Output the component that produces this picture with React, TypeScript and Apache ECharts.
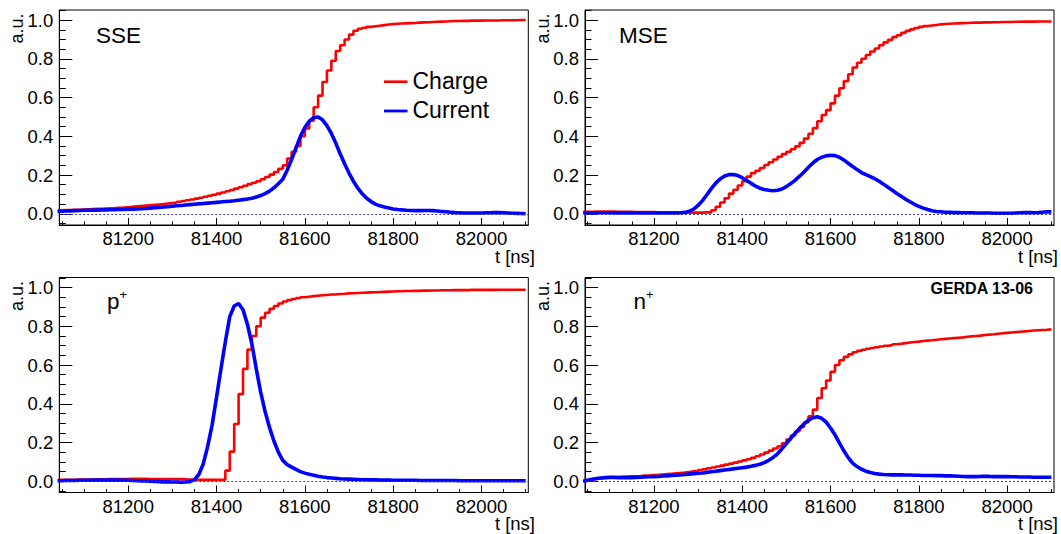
import React, { useEffect, useRef } from "react";
import * as echarts from "echarts";

// ---------- data ----------
// sampling grid (bin starts), 10 ns bins from 81040 ns to 82100 ns
const TIME: number[] = Array.from({ length: 107 }, (_, i) => 81040 + 10 * i);

const X_MAJOR = [81200, 81400, 81600, 81800, 82000];
const X_MINOR = [
  81050, 81100, 81150, 81200, 81250, 81300, 81350, 81400, 81450, 81500, 81550,
  81600, 81650, 81700, 81750, 81800, 81850, 81900, 81950, 82000, 82050, 82100,
];
const Y_MAJOR = [0, 0.2, 0.4, 0.6, 0.8, 1.0];
const Y_MINOR = [
  -0.05, 0, 0.05, 0.1, 0.15, 0.2, 0.25, 0.3, 0.35, 0.4, 0.45, 0.5, 0.55, 0.6,
  0.65, 0.7, 0.75, 0.8, 0.85, 0.9, 0.95, 1.0, 1.05,
];

const SSE_CHARGE = [
  0.018, 0.019, 0.019, 0.02, 0.021, 0.022, 0.023, 0.024, 0.025, 0.026,
  0.027, 0.028, 0.029, 0.031, 0.032, 0.034, 0.036, 0.038, 0.04, 0.042,
  0.044, 0.046, 0.048, 0.05, 0.053, 0.055, 0.058, 0.062, 0.066, 0.07,
  0.074, 0.078, 0.083, 0.088, 0.093, 0.098, 0.104, 0.11, 0.116, 0.123,
  0.13, 0.137, 0.145, 0.153, 0.16, 0.168, 0.178, 0.19, 0.202, 0.216,
  0.232, 0.25, 0.285, 0.32, 0.35, 0.4, 0.44, 0.48, 0.55, 0.61,
  0.68, 0.74, 0.79, 0.84, 0.87, 0.9, 0.925, 0.945, 0.955, 0.96,
  0.965, 0.968, 0.971, 0.974, 0.977, 0.979, 0.981, 0.982, 0.983, 0.984,
  0.985, 0.987, 0.988, 0.989, 0.99, 0.991, 0.992, 0.993, 0.994, 0.995,
  0.995, 0.996, 0.996, 0.997, 0.997, 0.997, 0.998, 0.998, 0.998, 0.998,
  0.999, 0.999, 0.999, 0.999, 1.0, 1.0, 1.0,
];
const SSE_CURRENT = [
  0.012, 0.013, 0.014, 0.015, 0.016, 0.017, 0.018, 0.018, 0.019, 0.019,
  0.02, 0.02, 0.021, 0.021, 0.022, 0.022, 0.023, 0.024, 0.025, 0.026,
  0.027, 0.029, 0.031, 0.033, 0.035, 0.037, 0.039, 0.041, 0.043, 0.045,
  0.047, 0.049, 0.051, 0.053, 0.055, 0.057, 0.059, 0.061, 0.063, 0.065,
  0.067, 0.07, 0.073, 0.076, 0.08, 0.086, 0.094, 0.104, 0.117, 0.134,
  0.155, 0.178, 0.225, 0.28, 0.34, 0.4, 0.445, 0.478, 0.496, 0.5,
  0.485, 0.455, 0.415, 0.365, 0.31, 0.258, 0.21, 0.168, 0.132, 0.103,
  0.08, 0.063, 0.05, 0.041, 0.035, 0.03, 0.025, 0.022, 0.02, 0.018,
  0.017, 0.016, 0.016, 0.017, 0.017, 0.016, 0.014, 0.012, 0.01, 0.008,
  0.006, 0.005, 0.004, 0.004, 0.004, 0.004, 0.004, 0.005, 0.005, 0.006,
  0.006, 0.005, 0.004, 0.003, 0.002, 0.001, 0.0,
];

const MSE_CHARGE = [
  0.01, 0.01, 0.011, 0.011, 0.011, 0.011, 0.011, 0.01, 0.01, 0.01,
  0.01, 0.009, 0.009, 0.009, 0.009, 0.009, 0.008, 0.008, 0.008, 0.008,
  0.007, 0.007, 0.007, 0.006, 0.006, 0.006, 0.006, 0.007, 0.007, 0.018,
  0.036, 0.058, 0.08, 0.104, 0.124, 0.146, 0.168, 0.192, 0.21, 0.222,
  0.236, 0.252, 0.266, 0.28, 0.294, 0.308, 0.32, 0.333, 0.348, 0.366,
  0.388, 0.413, 0.442, 0.478, 0.51, 0.535, 0.57, 0.61, 0.648, 0.685,
  0.72, 0.755, 0.78, 0.8, 0.82, 0.838, 0.853, 0.87, 0.885, 0.898,
  0.912, 0.922, 0.934, 0.944, 0.952, 0.959, 0.965, 0.969, 0.972, 0.975,
  0.978, 0.98, 0.981, 0.982, 0.983, 0.984, 0.985, 0.986, 0.987, 0.987,
  0.988, 0.988, 0.989, 0.989, 0.99, 0.99, 0.99, 0.991, 0.991, 0.992,
  0.992, 0.992, 0.993, 0.993, 0.993, 0.993, 0.993,
];
const MSE_CURRENT = [
  0.004, 0.004, 0.005, 0.005, 0.005, 0.005, 0.005, 0.004, 0.004, 0.004,
  0.004, 0.004, 0.004, 0.004, 0.004, 0.004, 0.004, 0.004, 0.004, 0.004,
  0.004, 0.004, 0.005, 0.007, 0.013, 0.024, 0.043, 0.068, 0.098, 0.13,
  0.158, 0.18, 0.195, 0.202, 0.203, 0.197, 0.186, 0.172, 0.157, 0.143,
  0.132, 0.125, 0.121, 0.119, 0.121, 0.128, 0.14, 0.156, 0.174, 0.194,
  0.216, 0.24, 0.262, 0.28, 0.292, 0.299, 0.302, 0.3, 0.292, 0.278,
  0.261, 0.244, 0.228, 0.213, 0.202, 0.192, 0.181, 0.168, 0.153, 0.137,
  0.121, 0.105, 0.09, 0.075, 0.062, 0.049, 0.038, 0.029, 0.022, 0.016,
  0.012, 0.01, 0.008, 0.007, 0.006, 0.006, 0.005, 0.005, 0.005, 0.004,
  0.004, 0.004, 0.004, 0.003, 0.003, 0.003, 0.003, 0.003, 0.004, 0.005,
  0.006, 0.006, 0.005, 0.006, 0.008, 0.01, 0.01,
];

const PPLUS_CHARGE = [
  0.008, 0.008, 0.008, 0.008, 0.009, 0.009, 0.009, 0.009, 0.01, 0.01,
  0.01, 0.011, 0.011, 0.012, 0.012, 0.012, 0.013, 0.013, 0.013, 0.013,
  0.012, 0.012, 0.012, 0.012, 0.012, 0.012, 0.011, 0.011, 0.01, 0.009,
  0.008, 0.008, 0.007, 0.007, 0.007, 0.007, 0.007, 0.008, 0.055, 0.153,
  0.296, 0.45, 0.58, 0.68, 0.75, 0.8, 0.845, 0.87, 0.89, 0.905,
  0.918, 0.928, 0.935, 0.941, 0.946, 0.95, 0.953, 0.956, 0.958, 0.96,
  0.962, 0.964, 0.965, 0.967, 0.968, 0.97, 0.971, 0.972, 0.973, 0.974,
  0.975, 0.976, 0.977, 0.978, 0.979, 0.98, 0.981, 0.981, 0.982, 0.982,
  0.983, 0.983, 0.984, 0.984, 0.985, 0.985, 0.986, 0.986, 0.986, 0.987,
  0.987, 0.987, 0.987, 0.988, 0.988, 0.988, 0.988, 0.988, 0.988, 0.989,
  0.989, 0.989, 0.989, 0.989, 0.989, 0.989, 0.989,
];
const PPLUS_CURRENT = [
  0.003, 0.003, 0.004, 0.004, 0.004, 0.005, 0.005, 0.005, 0.006, 0.006,
  0.006, 0.006, 0.006, 0.006, 0.006, 0.005, 0.005, 0.004, 0.003, 0.002,
  0.001, 0.0, -0.001, -0.002, -0.003, -0.003, -0.004, -0.004, -0.005, -0.004,
  -0.002, 0.008, 0.035, 0.09, 0.18, 0.29, 0.433, 0.58, 0.72, 0.85,
  0.905, 0.918, 0.885, 0.81, 0.71, 0.58, 0.46, 0.36, 0.278, 0.208,
  0.15, 0.108, 0.086, 0.073, 0.061, 0.05, 0.042, 0.036, 0.031, 0.026,
  0.022, 0.019, 0.017, 0.015, 0.013, 0.012, 0.011, 0.01, 0.009, 0.008,
  0.008, 0.007, 0.007, 0.006, 0.006, 0.006, 0.005, 0.005, 0.005, 0.005,
  0.005, 0.005, 0.004, 0.004, 0.004, 0.004, 0.004, 0.004, 0.004, 0.004,
  0.004, 0.003, 0.003, 0.003, 0.003, 0.003, 0.003, 0.003, 0.003, 0.003,
  0.003, 0.003, 0.003, 0.003, 0.003, 0.003, 0.003,
];

const NPLUS_CHARGE = [
  0.002, 0.006, 0.011, 0.015, 0.018, 0.02, 0.021, 0.022, 0.023, 0.024,
  0.025, 0.026, 0.027, 0.029, 0.03, 0.032, 0.033, 0.035, 0.037, 0.039,
  0.041, 0.043, 0.045, 0.048, 0.051, 0.054, 0.058, 0.062, 0.067, 0.071,
  0.076, 0.081, 0.086, 0.091, 0.096, 0.102, 0.108, 0.114, 0.121, 0.129,
  0.138, 0.148, 0.158, 0.169, 0.181, 0.196, 0.215, 0.236, 0.258, 0.28,
  0.305, 0.335, 0.37, 0.43, 0.48, 0.52, 0.565, 0.6, 0.625, 0.642,
  0.655, 0.666, 0.673, 0.679, 0.684, 0.688, 0.692, 0.696, 0.7, 0.703,
  0.707, 0.71, 0.713, 0.716, 0.719, 0.721, 0.724, 0.726, 0.728, 0.731,
  0.733, 0.735, 0.737, 0.739, 0.741, 0.743, 0.746, 0.748, 0.75, 0.752,
  0.755, 0.757, 0.759, 0.762, 0.764, 0.766, 0.768, 0.77, 0.772, 0.774,
  0.776, 0.778, 0.78, 0.781, 0.782, 0.784, 0.785,
];
const NPLUS_CURRENT = [
  0.0, 0.005, 0.01, 0.014, 0.017, 0.019, 0.02, 0.02, 0.019, 0.019,
  0.019, 0.019, 0.02, 0.021, 0.022, 0.023, 0.024, 0.025, 0.027, 0.028,
  0.03, 0.031, 0.033, 0.035, 0.037, 0.039, 0.041, 0.043, 0.046, 0.049,
  0.052, 0.055, 0.058, 0.061, 0.064, 0.067, 0.07, 0.073, 0.077, 0.082,
  0.088, 0.096, 0.108, 0.123, 0.142, 0.168, 0.195, 0.222, 0.248, 0.273,
  0.296, 0.315, 0.328, 0.333, 0.325, 0.305, 0.275, 0.24, 0.198, 0.158,
  0.122, 0.094, 0.076, 0.062, 0.052, 0.045, 0.04, 0.037, 0.035, 0.034,
  0.033, 0.033, 0.033, 0.032, 0.032, 0.031, 0.031, 0.03, 0.03, 0.03,
  0.029, 0.029, 0.028, 0.028, 0.027, 0.026, 0.025, 0.024, 0.024, 0.024,
  0.025, 0.025, 0.025, 0.024, 0.024, 0.024, 0.024, 0.023, 0.023, 0.022,
  0.022, 0.022, 0.021, 0.021, 0.021, 0.021, 0.021,
];

// panel titles: main text and superscript
const PANEL_TITLES = [
  ["SSE", ""],
  ["MSE", ""],
  ["p", "+"],
  ["n", "+"],
];
const CHARGES = [SSE_CHARGE, MSE_CHARGE, PPLUS_CHARGE, NPLUS_CHARGE];
const CURRENTS = [SSE_CURRENT, MSE_CURRENT, PPLUS_CURRENT, NPLUS_CURRENT];

// ---------- layout ----------
const FONT = "Liberation Sans";
const X_MIN = 81044;
const X_MAX = 82106;
const Y_MIN = -0.058;
const Y_MAX = 1.052;
const GRIDS = [
  { left: 59.3, top: 10, width: 469, height: 215 },
  { left: 585, top: 10, width: 469, height: 215 },
  { left: 59.3, top: 277.5, width: 469, height: 215 },
  { left: 585, top: 277.5, width: 469, height: 215 },
];
const TITLE_POS = [
  { x: 96, y: 35.5 },
  { x: 619, y: 35.5 },
  { x: 107, y: 301 },
  { x: 633.5, y: 301 },
];

function buildOption() {
  const black = { color: "#000", width: 1 };
  const xAxes: any[] = [];
  const yAxes: any[] = [];
  GRIDS.forEach((_, i) => {
    xAxes.push({
      type: "value",
      gridIndex: i,
      position: "bottom",
      min: X_MIN,
      max: X_MAX,
      axisLine: { show: true, onZero: false, lineStyle: black },
      axisTick: { show: true, inside: true, length: 7, lineStyle: black, customValues: X_MAJOR },
      axisLabel: {
        show: true,
        customValues: X_MAJOR,
        formatter: (v: number) => String(v),
        color: "#000",
        fontSize: 18.5,
        fontFamily: FONT,
        margin: 4,
      },
      splitLine: { show: false },
    });
    yAxes.push({
      type: "value",
      gridIndex: i,
      position: "left",
      min: Y_MIN,
      max: Y_MAX,
      axisLine: { show: true, onZero: false, lineStyle: black },
      axisTick: { show: true, inside: true, length: 13, lineStyle: black, customValues: Y_MAJOR },
      axisLabel: {
        show: true,
        customValues: Y_MAJOR,
        formatter: (v: number) => v.toFixed(1),
        color: "#000",
        fontSize: 18.5,
        fontFamily: FONT,
        margin: 6,
      },
      splitLine: { show: false },
    });
  });
  GRIDS.forEach((_, i) => {
    xAxes.push({
      type: "value",
      gridIndex: i,
      position: "bottom",
      min: X_MIN,
      max: X_MAX,
      axisLine: { show: false, onZero: false },
      axisTick: { show: true, inside: true, length: 3.5, lineStyle: black, customValues: X_MINOR },
      axisLabel: { show: false },
      splitLine: { show: false },
    });
    yAxes.push({
      type: "value",
      gridIndex: i,
      position: "left",
      min: Y_MIN,
      max: Y_MAX,
      axisLine: { show: false, onZero: false },
      axisTick: { show: true, inside: true, length: 6.5, lineStyle: black, customValues: Y_MINOR },
      axisLabel: { show: false },
      splitLine: { show: false },
    });
  });

  const series: any[] = [];
  GRIDS.forEach((_, i) => {
    series.push({
      type: "line",
      name: "Charge",
      xAxisIndex: i,
      yAxisIndex: i,
      data: TIME.map((t, k) => [t, CHARGES[i][k]]),
      step: "end",
      symbol: "none",
      showSymbol: false,
      lineStyle: { color: "#ff0000", width: 2.6 },
      itemStyle: { color: "#ff0000" },
      z: 2,
      markLine: {
        silent: true,
        symbol: ["none", "none"],
        label: { show: false },
        lineStyle: { type: [2, 2], color: "#3c3c96", width: 1 },
        data: [{ yAxis: 0 }],
      },
    });
    series.push({
      type: "line",
      name: "Current",
      xAxisIndex: i,
      yAxisIndex: i,
      data: TIME.map((t, k) => [t, CURRENTS[i][k]]),
      symbol: "none",
      showSymbol: false,
      lineStyle: { color: "#0000ff", width: 3.6 },
      itemStyle: { color: "#0000ff" },
      z: 3,
    });
  });

  const graphic: any[] = [];
  PANEL_TITLES.forEach(([main, sup], i) => {
    graphic.push({
      type: "text",
      x: TITLE_POS[i].x,
      y: TITLE_POS[i].y,
      style: {
        text: sup ? `{m|${main}}{s|${sup}}` : `{m|${main}}`,
        rich: {
          m: { fontSize: 22.5, fontFamily: FONT, fill: "#000", lineHeight: 26 },
          s: { fontSize: 13, fontFamily: FONT, fill: "#000", lineHeight: 12, verticalAlign: "top" },
        },
        align: "left",
        verticalAlign: "middle",
      },
    });
  });
  GRIDS.forEach((g, i) => {
    // y axis title
    graphic.push({
      type: "text",
      x: i % 2 === 0 ? 16.5 : 542.5,
      y: g.top + 3.5,
      rotation: Math.PI / 2,
      style: { text: "a.u.", fontSize: 18, fontFamily: FONT, fill: "#000", align: "right", verticalAlign: "middle" },
    });
    // x axis title
    graphic.push({
      type: "text",
      x: i % 2 === 0 ? 535 : 1058,
      y: g.top + g.height + 31,
      style: { text: "t [ns]", fontSize: 18.5, fontFamily: FONT, fill: "#000", align: "right", verticalAlign: "middle" },
    });
  });
  // legend (top-left panel)
  graphic.push(
    { type: "line", shape: { x1: 384, y1: 81.7, x2: 407.5, y2: 81.7 }, style: { stroke: "#ff0000", lineWidth: 2.6 } },
    { type: "text", x: 412.5, y: 81, style: { text: "Charge", fontSize: 23, fontFamily: FONT, fill: "#000", align: "left", verticalAlign: "middle" } },
    { type: "line", shape: { x1: 384, y1: 111, x2: 407.5, y2: 111 }, style: { stroke: "#0000ff", lineWidth: 2.8 } },
    { type: "text", x: 412.5, y: 110.3, style: { text: "Current", fontSize: 23, fontFamily: FONT, fill: "#000", align: "left", verticalAlign: "middle" } },
    {
      type: "text",
      x: 1033,
      y: 288,
      style: { text: "GERDA 13-06", fontSize: 16, fontWeight: "bold", fontFamily: FONT, fill: "#000", align: "right", verticalAlign: "middle" },
    }
  );

  return {
    animation: false,
    backgroundColor: "#fff",
    grid: GRIDS.map((g) => ({ ...g, show: true, borderColor: "#000", borderWidth: 1, backgroundColor: "transparent" })),
    xAxis: xAxes,
    yAxis: yAxes,
    series,
    graphic,
  };
}

export default function App() {
  const ref = useRef<HTMLDivElement>(null);
  useEffect(() => {
    if (!ref.current) return;
    const chart = echarts.init(ref.current, null, { renderer: "svg" });
    chart.setOption(buildOption());
    return () => chart.dispose();
  }, []);
  return <div ref={ref} style={{ position: "absolute", left: 0, top: 0, width: 1061, height: 534 }} />;
}
